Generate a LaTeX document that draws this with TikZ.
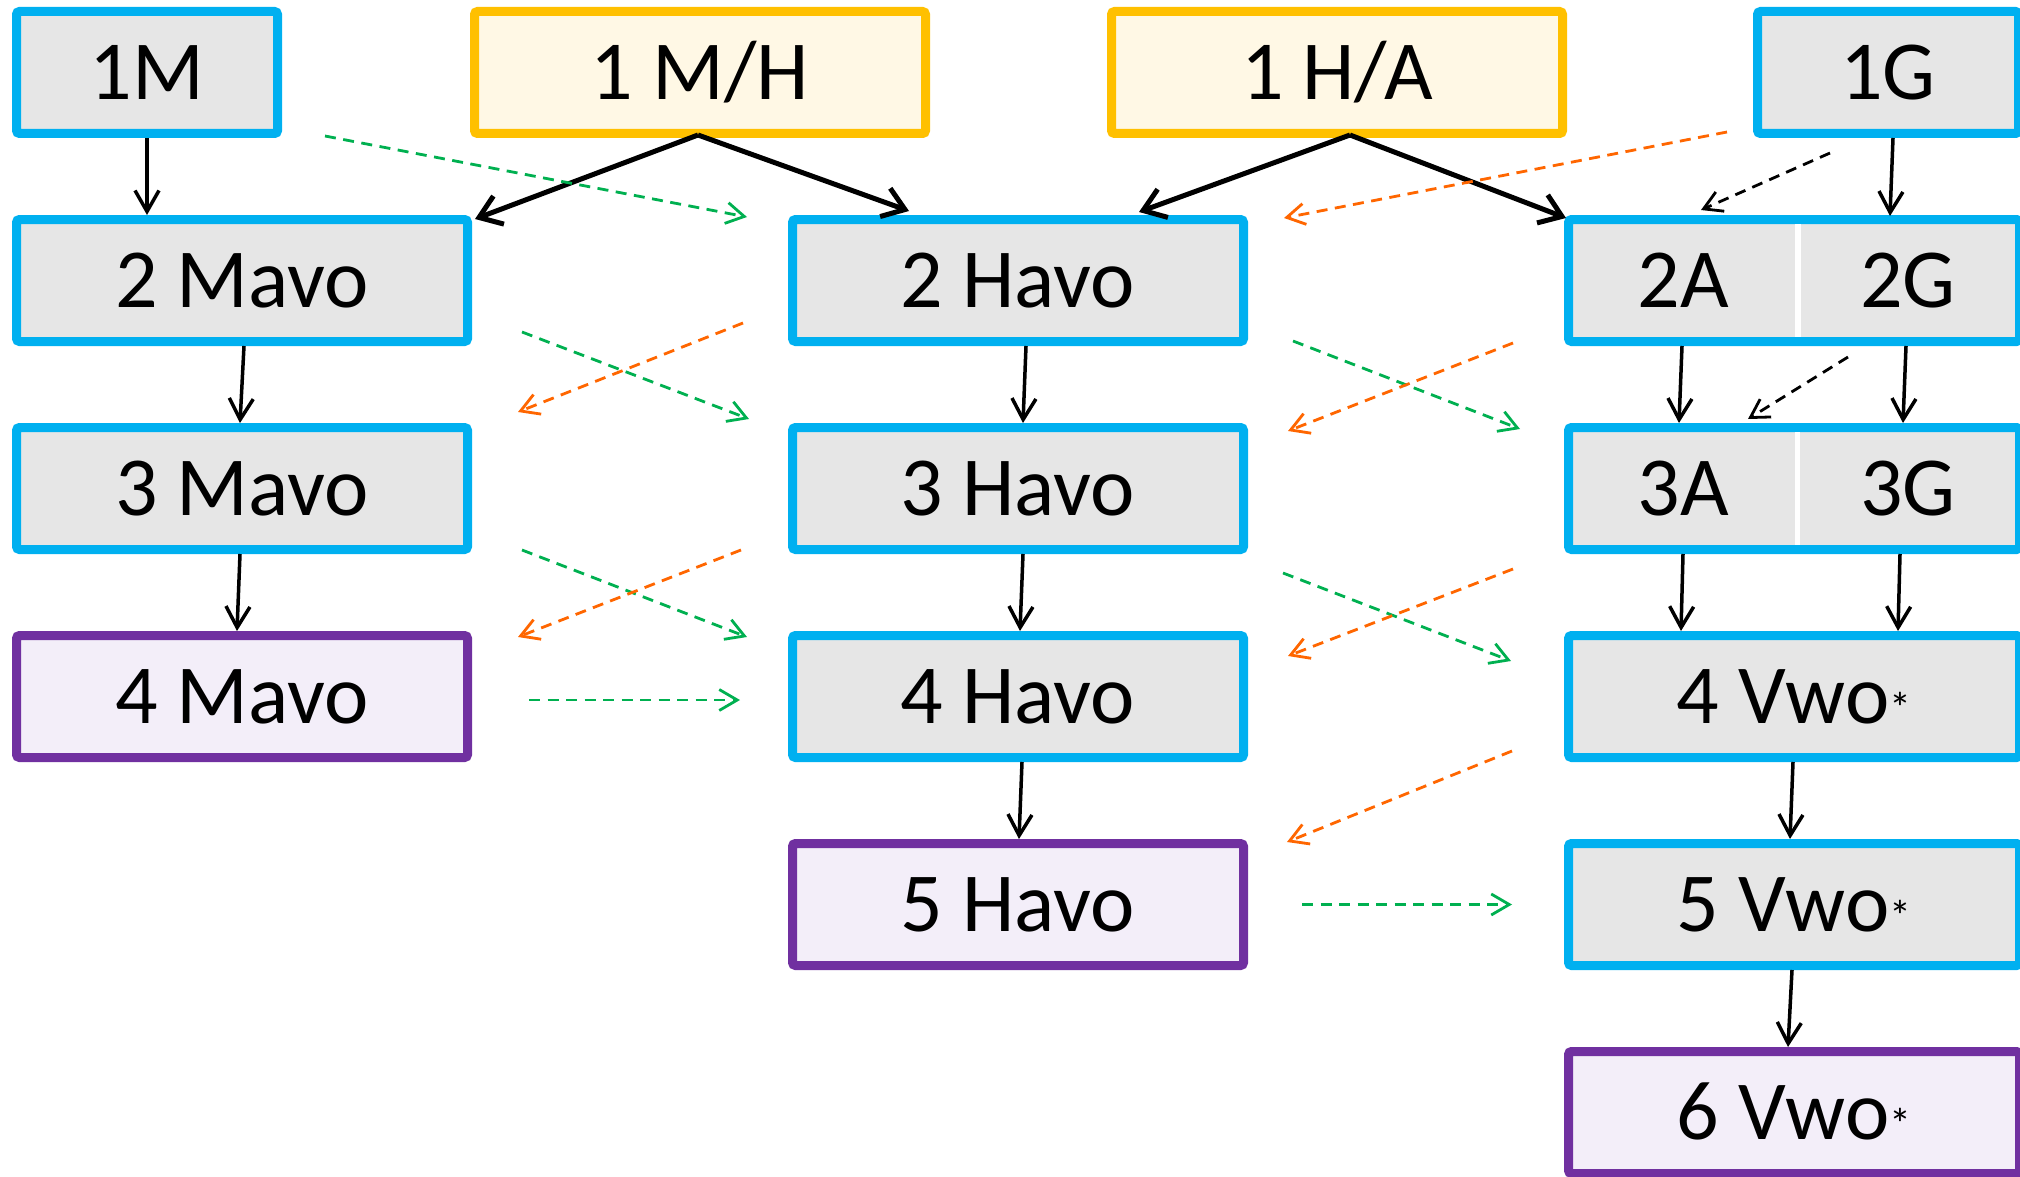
\documentclass[tikz,border=0pt]{standalone}
\usepackage{fontspec}
\setmainfont{Carlito}
\usetikzlibrary{arrows.meta,calc}
\definecolor{cblue}{HTML}{00B0F0}
\definecolor{cgray}{HTML}{E6E6E6}
\definecolor{cyel}{HTML}{FFC000}
\definecolor{cyelfill}{HTML}{FFF8E5}
\definecolor{cpur}{HTML}{7030A0}
\definecolor{cpurfill}{HTML}{F3EEF9}
\definecolor{cgreen}{HTML}{00B050}
\definecolor{corange}{HTML}{FF6600}
\newcommand\boxfont{\fontsize{84}{90}\selectfont}
\newcommand\vwostar{{\fontsize{44}{44}\selectfont *}}
\tikzset{
  box/.style={draw, line width=9, rounded corners=3, inner sep=0, minimum height=122,
    text height=54, text depth=0, font=\boxfont},
  bluebox/.style={box, draw=cblue, fill=cgray},
  yelbox/.style={box, draw=cyel, fill=cyelfill},
  purbox/.style={box, draw=cpur, fill=cpurfill},
  widebox/.style={minimum width=451},
  narrowbox/.style={minimum width=261},
  celltext/.style={inner sep=0, text height=54, text depth=0, font=\boxfont},
  arr/.style={draw=black, line width=3.5, -{Straight Barb[length=21,width=24]}},
  thickarr/.style={draw=black, line width=5, -{Straight Barb[length=21,width=30]}},
  karr/.style={draw=black, line width=2.8, dash pattern=on 11 off 7.5, -{Straight Barb[length=18,width=21]}},
  garr/.style={draw=cgreen, line width=2.8, dash pattern=on 11 off 7.5, -{Straight Barb[length=18,width=21]}},
  oarr/.style={draw=corange, line width=2.8, dash pattern=on 11 off 7.5, -{Straight Barb[length=18,width=21]}},
}
\begin{document}
\begin{tikzpicture}[x=1pt,y=-1pt]
\useasboundingbox (0,0) rectangle (2020,1177);
% row 1
\node[bluebox, narrowbox] (m1) at (147,72.5) {1M};
\node[yelbox, widebox] (mh1) at (700,72.5) {1 M/H};
\node[yelbox, widebox] (ha1) at (1337,72.5) {1 H/A};
\node[bluebox, narrowbox] (g1) at (1888,72.5) {1G};
% row 2
\node[bluebox, widebox] (m2) at (242,280.5) {2 Mavo};
\node[bluebox, widebox] (h2) at (1018,280.5) {2 Havo};
\node[bluebox, widebox] (c2) at (1794,280.5) {};
\draw[white, line width=6] ([xshift=4,yshift=-9]c2.north) -- ([xshift=4,yshift=9]c2.south);
\node[celltext] (a2) at (1683,280.5) {2A};
\node[celltext] (gg2) at (1908,280.5) {2G};
% row 3
\node[bluebox, widebox] (m3) at (242,488.5) {3 Mavo};
\node[bluebox, widebox] (h3) at (1018,488.5) {3 Havo};
\node[bluebox, widebox] (c3) at (1794,488.5) {};
\draw[white, line width=5] ([xshift=3,yshift=-9]c3.north) -- ([xshift=3,yshift=9]c3.south);
\node[celltext] (a3) at (1683,488.5) {3A};
\node[celltext] (gg3) at (1908,488.5) {3G};
% row 4
\node[purbox, widebox] (m4) at (242,696.5) {4 Mavo};
\node[bluebox, widebox] (h4) at (1018,696.5) {4 Havo};
\node[bluebox, widebox] (v4) at (1794,696.5) {4 Vwo\vwostar};
% row 5
\node[purbox, widebox] (h5) at (1018,904.5) {5 Havo};
\node[bluebox, widebox] (v5) at (1794,904.5) {5 Vwo\vwostar};
% row 6
\node[purbox, widebox] (v6) at (1794,1112.5) {6 Vwo\vwostar};

% black solid arrows
\draw[arr] (m1.south) -- (m1.south |- m2.north);
\draw[thickarr] ($(mh1.south)+(-2,-3)$) -- ($(m2.north east)+(3,4)$);
\draw[thickarr] ($(mh1.south)+(-2,-3)$) -- ($(h2.north west)+(121,-4)$);
\draw[thickarr] ($(ha1.south)+(13,-3)$) -- ($(h2.north)+(121,-3)$);
\draw[thickarr] ($(ha1.south)+(13,-3)$) -- ($(c2.north west)+(2,3)$);
\draw[arr] ($(g1.south)+(5,0)$) -- ($(c2.north)+(96,1)$);
\draw[arr] ($(m2.south)+(2,0)$) -- ($(m3.north)+(-2,0)$);
\draw[arr] ($(m3.south)+(-2,0)$) -- ($(m4.north)+(-5,0)$);
\draw[arr] ($(h2.south)+(8,0)$) -- ($(h3.north)+(5,0)$);
\draw[arr] ($(h3.south)+(5,0)$) -- ($(h4.north)+(2,0)$);
\draw[arr] ($(h4.south)+(4,0)$) -- ($(h5.north)+(1,0)$);
\draw[arr] ($(c2.south)+(-112,0)$) -- ($(c3.north)+(-115,0)$);
\draw[arr] ($(c2.south)+(112,0)$) -- ($(c3.north)+(109,0)$);
\draw[arr] ($(c3.south)+(-111,0)$) -- ($(v4.north)+(-113,0)$);
\draw[arr] ($(c3.south)+(106,0)$) -- ($(v4.north)+(104,0)$);
\draw[arr] ($(v4.south)+(-1,0)$) -- ($(v5.north)+(-4,0)$);
\draw[arr] ($(v5.south)+(-2,0)$) -- ($(v6.north)+(-6,0)$);
% black dashed arrows
\draw[karr] ($(g1.south)+(-58,15)$) -- ($(c2.north)+(-93,-5)$);
\draw[karr] ($(c2.south)+(54,11)$) -- ($(c3.north)+(-46,-4)$);
% green dashed arrows
\draw[garr] ($(m1.south east)+(43,-2)$) -- ($(h2.north west)+(-41,2)$);
\draw[garr] ($(m2.south east)+(50,-14)$) -- ($(h3.north west)+(-39,-4)$);
\draw[garr] ($(m3.south east)+(50,-4)$) -- ($(h4.north west)+(-41,6)$);
\draw[garr] ($(m4.east)+(57,3.5)$) -- ($(h4.west)+(-48,3.5)$);
\draw[garr] ($(h2.south east)+(45,-5)$) -- ($(c3.north west)+(-44,6)$);
\draw[garr] ($(h3.south east)+(35,19)$) -- ($(v4.north west)+(-53,30)$);
\draw[garr] ($(h5.east)+(54,0)$) -- ($(v5.west)+(-52,0)$);
% orange dashed arrows
\draw[oarr] ($(g1.south west)+(-26,-6)$) -- ($(h2.north east)+(36,3)$);
\draw[oarr] ($(h2.south west)+(-45,-23)$) -- ($(m3.north east)+(46,-11)$);
\draw[oarr] ($(h3.south west)+(-47,-4)$) -- ($(m4.north east)+(46,6)$);
\draw[oarr] ($(c2.south west)+(-51,-3)$) -- ($(h3.north east)+(40,8)$);
\draw[oarr] ($(c3.south west)+(-51,15)$) -- ($(h4.north east)+(40,25)$);
\draw[oarr] ($(v4.south west)+(-52,-11)$) -- ($(h5.north east)+(39,3)$);
\end{tikzpicture}
\end{document}
